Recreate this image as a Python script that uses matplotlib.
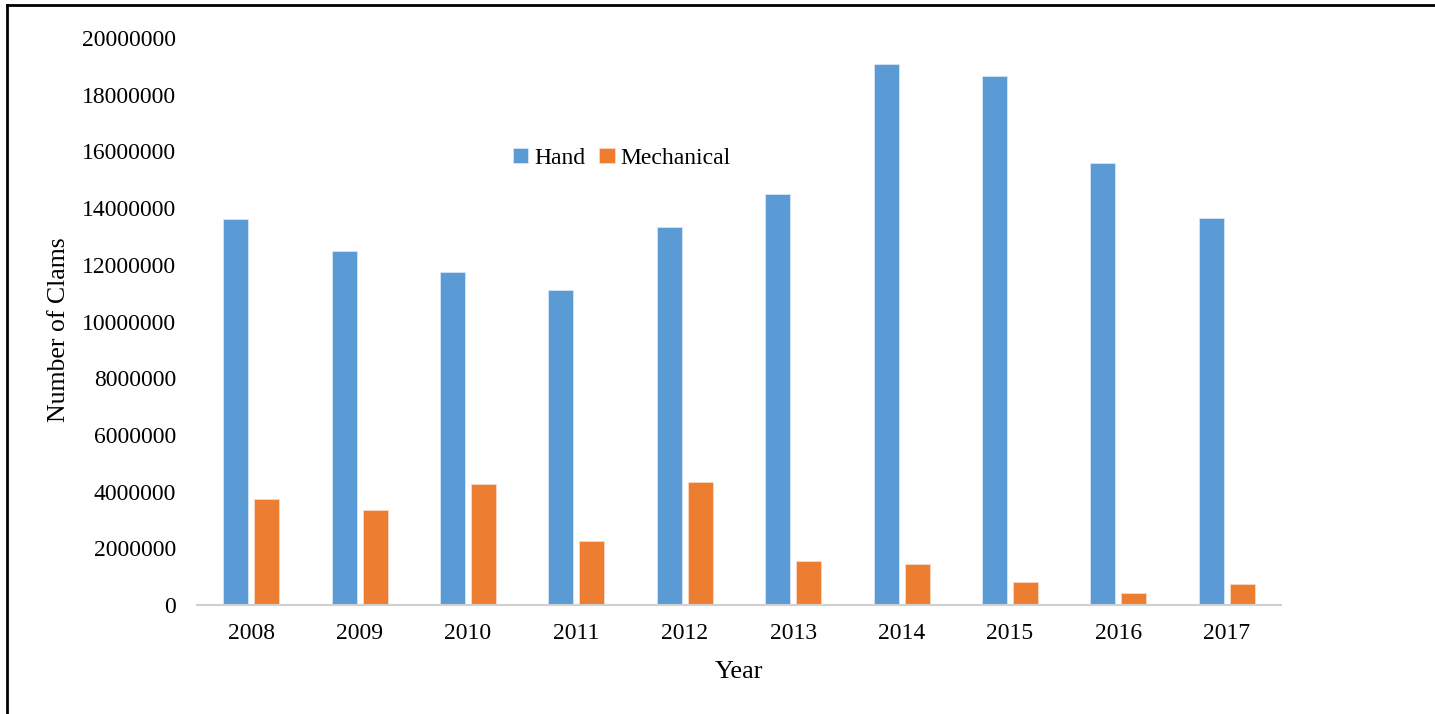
import matplotlib
matplotlib.use("Agg")
import matplotlib.pyplot as plt
from matplotlib.lines import Line2D
import numpy as np

years = ["2008", "2009", "2010", "2011", "2012", "2013", "2014", "2015", "2016", "2017"]
hand = [13600000, 12480000, 11760000, 11120000, 13320000, 14510000, 19070000, 18670000, 15590000, 13640000]
mechanical = [3750000, 3340000, 4260000, 2270000, 4340000, 1540000, 1450000, 810000, 410000, 730000]
yticks = [0, 2000000, 4000000, 6000000, 8000000, 10000000, 12000000, 14000000, 16000000, 18000000, 20000000]

plt.rcParams['font.family'] = ['Liberation Serif', 'DejaVu Serif']

fig = plt.figure(figsize=(14.35, 7.14), dpi=100)
ax = fig.add_axes([197/1435, 1 - 605/714, 1084/1435, 567/714])

x = np.arange(len(years))
w = 0.23
off = 0.143
ax.bar(x - off, hand, width=w, color='#5B9BD5', edgecolor='#D6E6F5', linewidth=0.6, label='Hand')
ax.bar(x + off, mechanical, width=w, color='#ED7D31', edgecolor='#F9D9C4', linewidth=0.6, label='Mechanical')

ax.set_xlim(-0.5, len(years) - 0.5)
ax.set_ylim(0, 20000000)
ax.set_yticks(yticks)
ax.set_yticklabels([str(v) for v in yticks], fontsize=17)
ax.set_xticks(x)
ax.set_xticklabels(years, fontsize=17)
ax.tick_params(axis='y', length=0, pad=15)
ax.tick_params(axis='x', length=0, pad=13)

for s in ['top', 'right', 'left']:
    ax.spines[s].set_visible(False)
ax.spines['bottom'].set_color('#D0D0D0')
ax.spines['bottom'].set_linewidth(1.5)

ax.set_xlabel('Year', fontsize=19, labelpad=12)
ax.set_ylabel('Number of Clams', fontsize=18.5)
ax.yaxis.set_label_coords(-0.117, 0.485)

leg = ax.legend(loc='center', bbox_to_anchor=(0.392, 0.788), ncol=2, frameon=False,
                fontsize=17, handlelength=0.65, handleheight=0.65, handletextpad=0.25,
                columnspacing=0.6)

fig.add_artist(Line2D([7/1435, 7/1435], [0, 1 - 5/714], transform=fig.transFigure, color='black', lw=2))
fig.add_artist(Line2D([7/1435, 1], [1 - 5/714, 1 - 5/714], transform=fig.transFigure, color='black', lw=2))

fig.savefig('out.png', dpi=100, facecolor='white')
